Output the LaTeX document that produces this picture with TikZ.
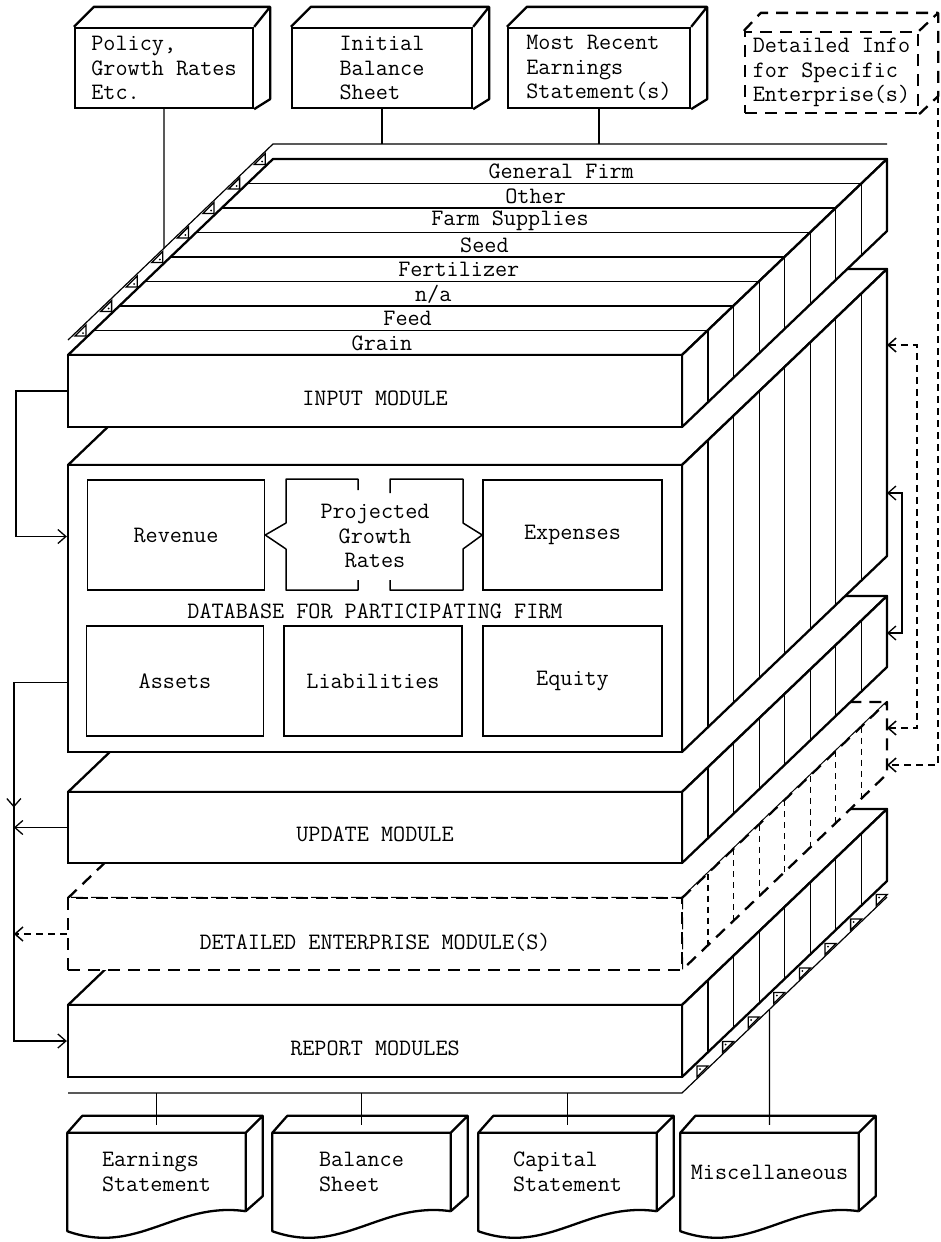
\documentclass[tikz,border=0pt]{standalone}
\usepackage{fontspec}
\usepackage{tikz}
\usetikzlibrary{arrows.meta,positioning,calc}

\begin{document}
\begin{tikzpicture}[
  x=1pt,y=-1pt,
  font=\ttfamily\fontsize{23.5}{24.5}\selectfont,
  >={Straight Barb[length=8pt,width=14pt]},
  face/.style={fill=white,line width=2.3pt,line join=round},
  slab/.style={rectangle,draw,fill=white,line width=2.3pt,minimum width=614pt,inner sep=0pt},
  slice/.style={line width=1.1pt},
  strip/.style={line width=1.2pt},
  cell/.style={rectangle,draw,line width=1.5pt,minimum width=177pt,minimum height=110pt},
  cellline/.style={line width=1.5pt,line join=round},
  srcbox/.style={rectangle,draw,fill=white,line width=2.3pt,minimum height=80pt,align=left,inner sep=0pt},
  docbox/.style={rectangle,minimum width=178pt,minimum height=78pt,align=left,inner sep=0pt},
  outline/.style={line width=2.3pt,line join=round},
  link/.style={line width=1.3pt},
  dlink/.style={line width=1.5pt,dash pattern=on 7pt off 5pt},
  boldash/.style={dash pattern=on 12pt off 8pt},
  thindash/.style={dash pattern=on 6pt off 5pt}]
\useasboundingbox (0,0) rectangle (940,1242);

\foreach \nm/\yt/\yb/\sty/\ssty/\ty/\txt in {
  report/1005/1077/solid/solid/1048/REPORT MODULES,
  detail/898/970/boldash/thindash/942/DETAILED ENTERPRISE MODULE(S),
  update/792/863/solid/solid/834/UPDATE MODULE,
  database/465/752/solid/solid/611/DATABASE FOR PARTICIPATING FIRM,
  input/355/427/solid/solid/398/INPUT MODULE}{
  \filldraw[face,\sty] (68,\yt) -- ++(205,-196) -- ++(614,0) -- (682,\yt) -- cycle;
  \filldraw[face,\sty] (682,\yt) -- ++(205,-196) -- ++(0,\yb-\yt) -- (682,\yb) -- cycle;
  \node[slab,\sty,minimum height=\yb-\yt] (\nm) at (375,{(\yt+\yb)/2}) {};
  \coordinate (\nm-br) at (887,\yt-196);
  \foreach \k in {1,...,7}
    \draw[slice,\ssty] (682.4+25.55*\k,\yt-24.5*\k) -- ++(0,\yb-\yt);
  \node (\nm-txt) at (375,\ty) {\txt};
}

\foreach \k in {1,...,7}
  \draw[strip] (68+25.6*\k,355-24.5*\k) -- ++(614,0);
\foreach \lab [count=\k from 0] in {Grain,Feed,{n/a},Fertilizer,Seed,Farm Supplies,Other,General Firm}
  \node (strip\k) at (382+25.6*\k,343-24.5*\k) {\lab};

\coordinate (tc1) at (68,340);
\coordinate (tc2) at (273,144);
\coordinate (tc3) at (887,144);
\draw[strip] (tc1) -- (tc2) -- (tc3);
\foreach \k in {0,...,7}{
  \draw[link] (86+25.6*\k,336-24.5*\k) -- ++(-11,0) -- ++(11,-11) -- cycle;
  \fill (83+25.6*\k,333-24.5*\k) circle (1);
}
\coordinate (bc1) at (68,1093);
\coordinate (bc2) at (682,1093);
\coordinate (bc3) at (887,897);
\draw[strip] (bc1) -- (bc2) -- (bc3);
\foreach \k in {0,...,7}{
  \draw[link] (697+25.6*\k,1066-24.5*\k) -- ++(11,0) -- ++(-11,11) -- cycle;
  \fill (700+25.6*\k,1069-24.5*\k) circle (1);
}

\node[cell] (rev) at (176,535) {Revenue};
\node[cell,minimum width=179pt] (exp) at (572.5,535) {Expenses};
\node[cell] (ast) at (175,681) {Assets};
\node[cell,minimum width=178pt] (lia) at (373,681) {Liabilities};
\node[cell,minimum width=179pt] (eq) at (572.5,681) {Equity};
\node[align=center] (grw) at (375,536) {Projected\\Growth\\Rates};
\draw[cellline] (358,490) -- (358,479) -- (286,479) -- (286,523) -- (rev.east) -- (286,549) -- (286,590) -- (358,590) -- (358,580);
\draw[cellline] (390,493) -- (390,479) -- (463,479) -- (463,523) -- (exp.west) -- (463,549) -- (463,590) -- (390,590) -- (390,580);

\node[srcbox,minimum width=178pt] (pol) at (164,68) {Policy,\\Growth Rates\\Etc.};
\node[srcbox,minimum width=180pt] (ini) at (382,68) {Initial\\Balance\\Sheet};
\node[srcbox,minimum width=182pt] (rec) at (599,68) {Most Recent\\Earnings\\Statement(s)};
\node[srcbox,boldash,minimum width=173pt,minimum height=81pt] (info) at (831.5,72.5) {Detailed Info\\for Specific\\Enterprise(s)};
\foreach \b in {pol,ini,rec}
  \draw[outline] (\b.north west) -- ++(20,-20) -- ([shift={(16,-20)}]\b.north east) -- ([shift={(16,-10)}]\b.south east) -- (\b.south east)
    (\b.north east) -- ++(16,-20);
\draw[outline,boldash] (info.north west) -- ++(17,-18) -- ([shift={(19,-18)}]info.north east) -- ([shift={(19,-18)}]info.south east) -- (info.south east)
  (info.north east) -- ++(19,-18);

\node[docbox] (earn) at (156.5,1172) {Earnings\\Statement};
\node[docbox] (bal) at (361.5,1172) {Balance\\Sheet};
\node[docbox] (cap) at (567.5,1172) {Capital\\Statement};
\node[docbox] (misc) at (769.5,1172) {Miscellaneous};
\foreach \doc in {earn,bal,cap,misc}
  \draw[outline] (\doc.south east) -- (\doc.north east) -- (\doc.north west) -- ([shift={(0,20)}]\doc.south west)
      .. controls +(70,25) and +(-70,-10) .. (\doc.south east)
    (\doc.north west) -- ++(15,-17) -- ([shift={(17,-17)}]\doc.north east) -- ([shift={(17,-15)}]\doc.south east) -- (\doc.south east)
    (\doc.north east) -- ++(17,-17);

\path (tc1) -- (tc2) coordinate[pos=0.468] (tcp);
\draw[link] (pol.south) -- (tcp);
\draw[link] (ini.south) -- (ini.south |- tc2);
\draw[link] (rec.south) -- (rec.south |- tc2);
\foreach \doc in {earn,bal,cap}
  \draw[link] (\doc.north |- bc1) -- ([shift={(0,-8)}]\doc.north);
\path (bc2) -- (bc3) coordinate[pos=0.427] (bcm);
\draw[link] (bcm) -- ([shift={(0,-8)}]misc.north);

\draw[link,->] (input.west) -- ++(-51,0) |- ([shift={(0,-72)}]database.west);
\draw[link,->] ([shift={(0,74)}]database.west) -- ++(-53,0) coordinate (bus) |- (report.west);
\draw[link,->] (bus) -- ++(0,125);
\draw[link,->] (update.west) -- (update.west -| bus);
\draw[dlink,->] (detail.west) -- (detail.west -| bus);

\draw[dlink,<->] ([shift={(0,76)}]database-br) -- ++(30,0) |- ([shift={(0,26)}]detail-br);
\draw[link,<->] ([shift={(0,224)}]database-br) -- ++(15,0) |- ([shift={(0,37)}]update-br);
\draw[dlink,->] ([shift={(19,-18)}]info.south east) |- ([shift={(0,63)}]detail-br);
\end{tikzpicture}
\end{document}
